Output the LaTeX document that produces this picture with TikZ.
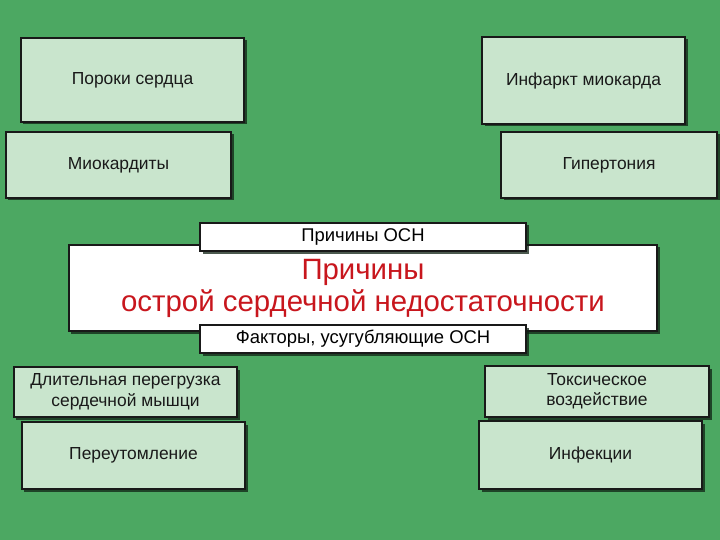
\documentclass[tikz,border=0pt]{standalone}
\usepackage{fontspec}
\setmainfont{Liberation Sans}
\usepackage{tikz}
\usetikzlibrary{shadows}

\definecolor{bggreen}{HTML}{4CA862}
\definecolor{boxgreen}{HTML}{C9E5CD}
\definecolor{titlered}{HTML}{C8161D}

\begin{document}
\begin{tikzpicture}[x=1bp,y=-1bp,
    cause/.style={draw=black!90, line width=1.3bp, fill=boxgreen, inner sep=0pt,
      align=center, font=\fontsize{17.5}{20.5}\selectfont, text=black!90,
      drop shadow={shadow xshift=2.5bp, shadow yshift=-2.5bp, fill=black!80!bggreen, opacity=0.75}},
    plate/.style={draw=black!90, line width=1.3bp, fill=white, inner sep=0pt,
      align=center, drop shadow={shadow xshift=2.5bp, shadow yshift=-2.5bp, fill=black!80!bggreen, opacity=0.75}}]
        % Background
        \fill[bggreen] (0,0) rectangle (720,540);
        \useasboundingbox (0,0) rectangle (720,540);
        % Causes
        \node[cause, minimum width=223bp, minimum height=84bp] (poroki) at (132.5,80) {Пороки сердца};
        \node[cause, minimum width=225bp, minimum height=66bp] (miokardit) at (118.5,165) {Миокардиты};
        \node[cause, minimum width=203bp, minimum height=87bp] (infarkt) at (583.5,80.5) {Инфаркт миокарда};
        \node[cause, minimum width=216bp, minimum height=66bp] (gipert) at (609,165) {Гипертония};
        % Title
        \node[plate, minimum width=588bp, minimum height=86bp, text=titlered,
          font=\fontsize{29.5}{32}\selectfont] (title) at (363,288)
          {Причины\\острой сердечной недостаточности};
        \node[plate, minimum width=326bp, minimum height=28bp,
          font=\fontsize{18.5}{21}\selectfont] (prichiny) at (363,237) {Причины ОСН};
        \node[plate, minimum width=326bp, minimum height=28bp,
          font=\fontsize{18.5}{21}\selectfont] (faktory) at (363,339) {Факторы, усугубляющие ОСН};
        % Factors
        \node[cause, minimum width=223bp, minimum height=50bp] (peregruz) at (125.5,392)
          {Длительная перегрузка\\сердечной мышци};
        \node[cause, minimum width=223bp, minimum height=67bp] (pereutom) at (133.5,455.5) {Переутомление};
        \node[cause, minimum width=224bp, minimum height=51bp] (toksich) at (597,391.5)
          {Токсическое\\воздействие};
        \node[cause, minimum width=223bp, minimum height=68bp] (infekc) at (590.5,455) {Инфекции};
\end{tikzpicture}
\end{document}
